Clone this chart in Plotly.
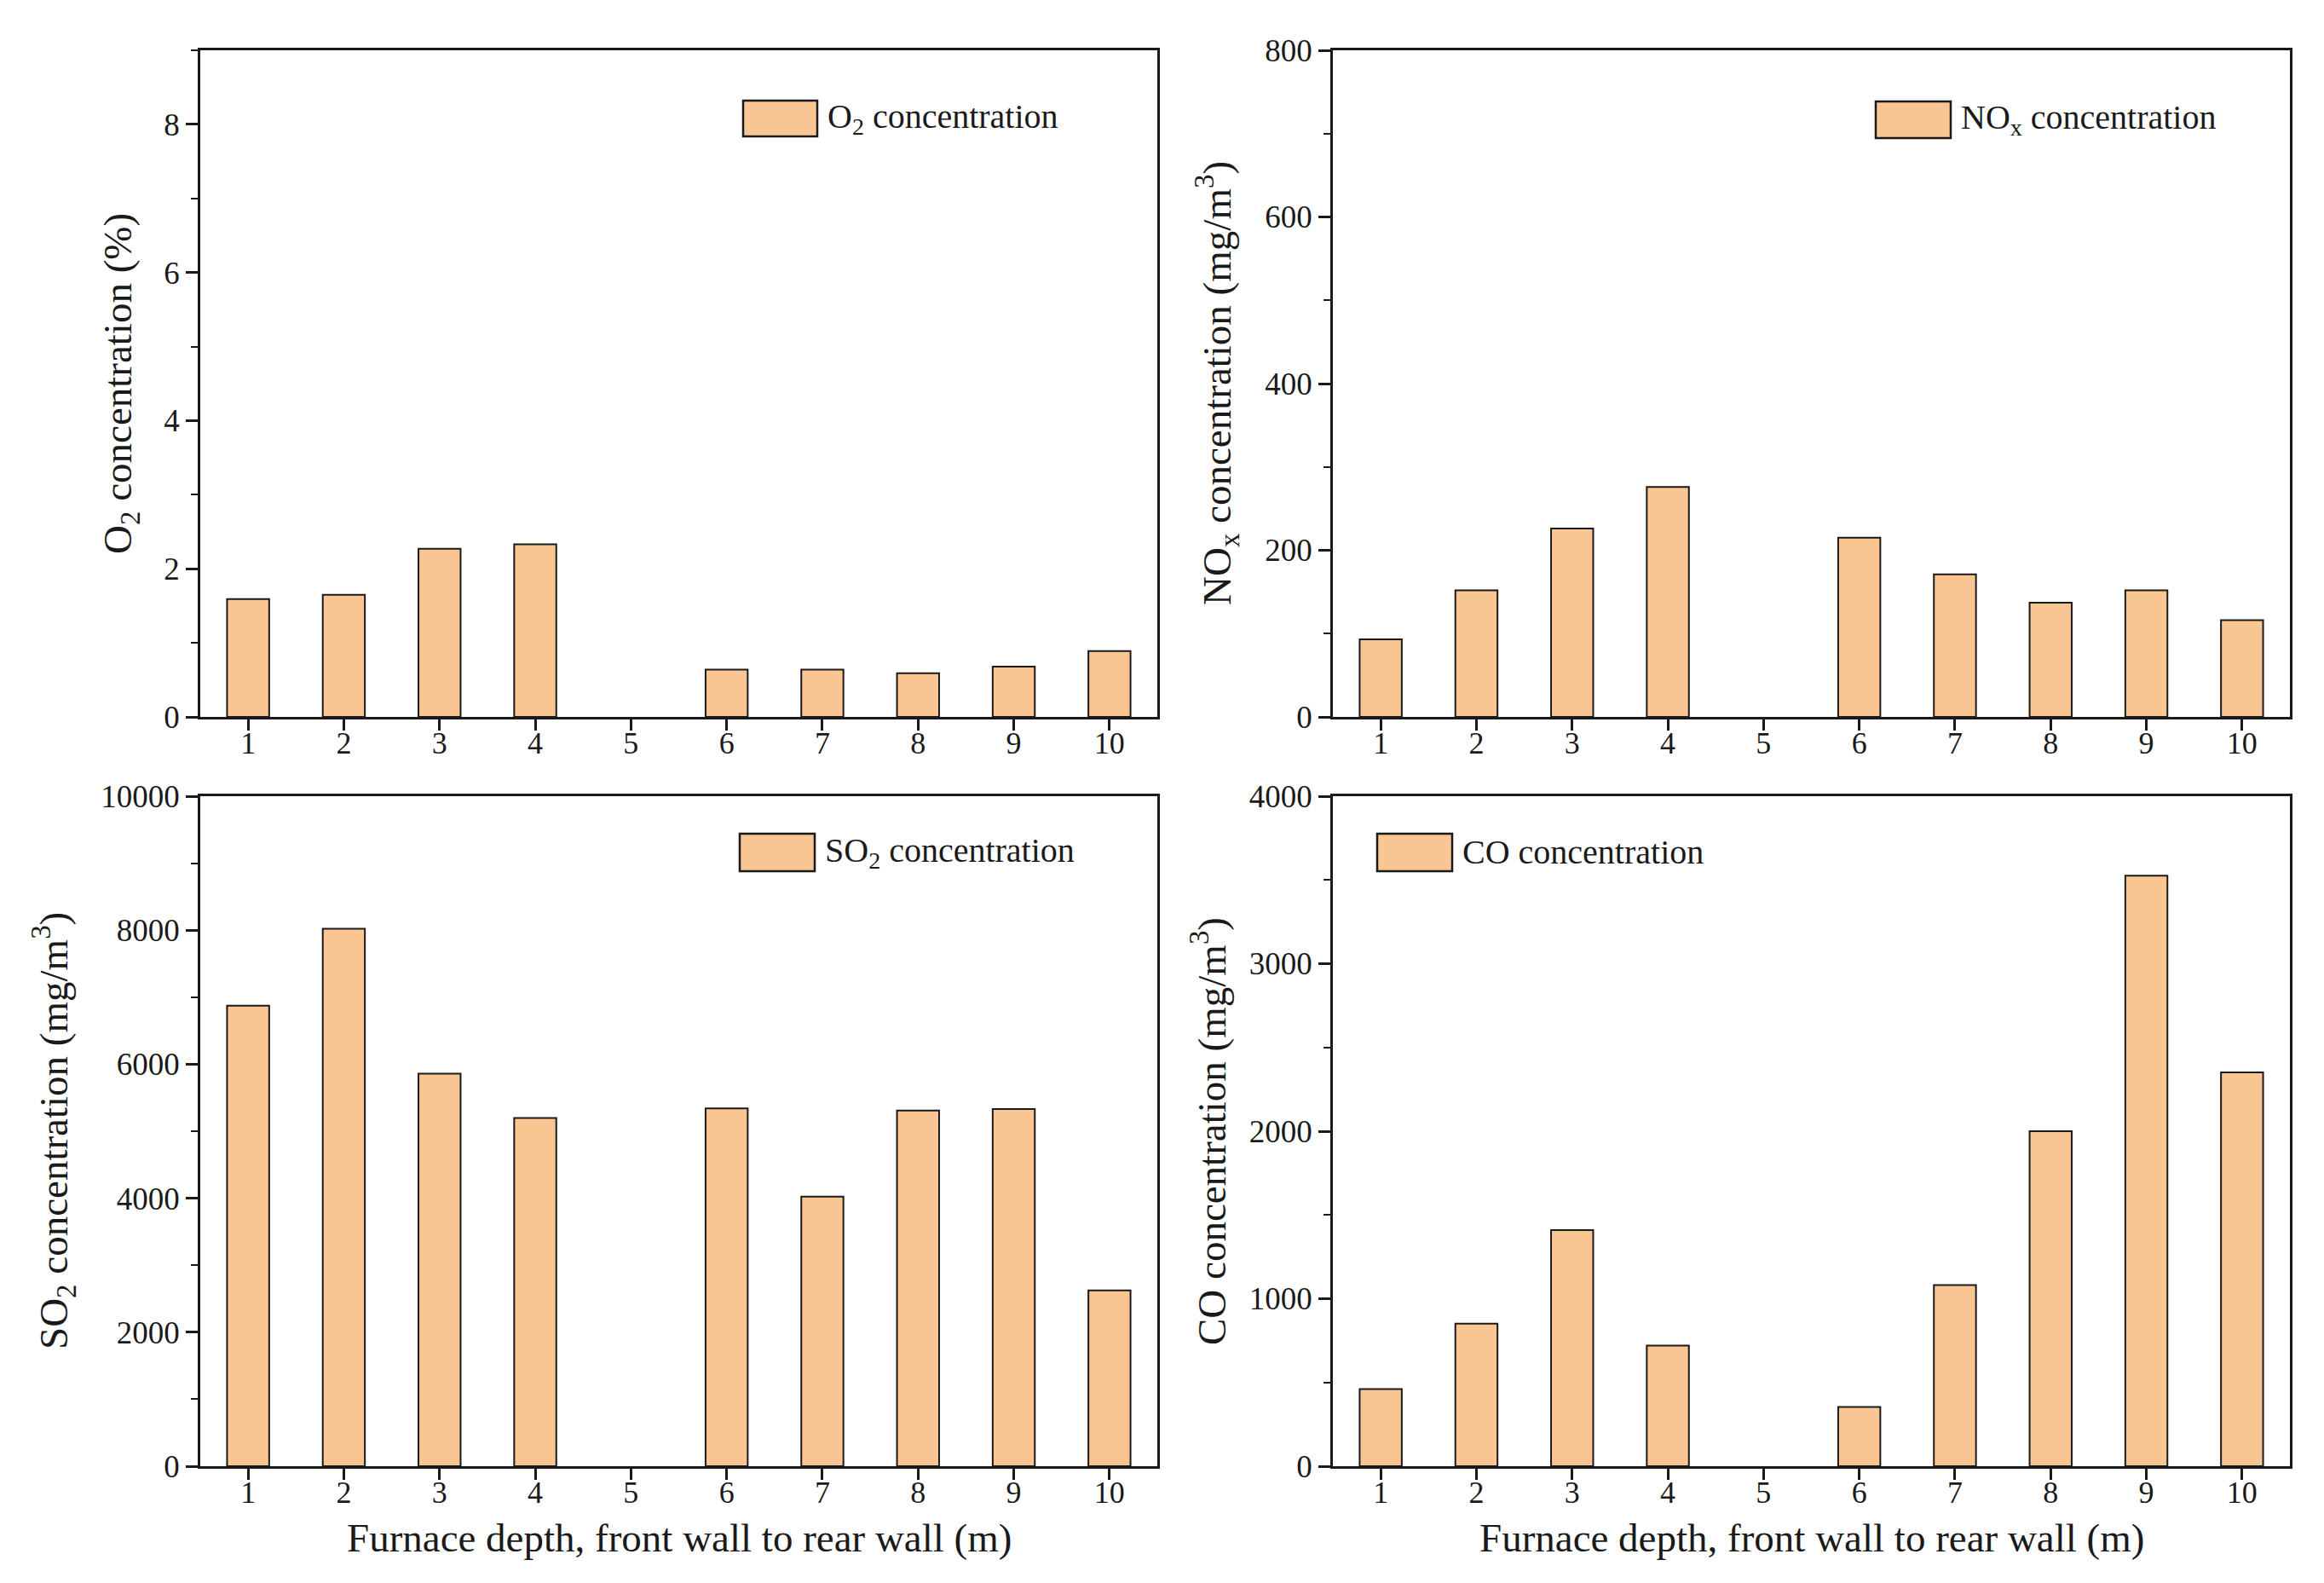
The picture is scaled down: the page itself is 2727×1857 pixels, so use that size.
import plotly.graph_objects as go

W, H = 2727, 1857

depth = [1, 2, 3, 4, 5, 6, 7, 8, 9, 10]
depth_labels = ["1", "2", "3", "4", "5", "6", "7", "8", "9", "10"]

o2 = [1.59, 1.65, 2.27, 2.33, None, 0.64, 0.64, 0.59, 0.68, 0.89]
nox = [93, 152, 226, 276, None, 215, 171, 137, 152, 116]
so2 = [6872, 8023, 5860, 5198, None, 5339, 4023, 5307, 5331, 2623]
co = [460, 851, 1410, 720, None, 354, 1081, 2000, 3525, 2351]

o2_ticks = [0, 2, 4, 6, 8]
nox_ticks = [0, 200, 400, 600, 800]
so2_ticks = [0, 2000, 4000, 6000, 8000, 10000]
co_ticks = [0, 1000, 2000, 3000, 4000]

FILL = "#F9C593"
EDGE = "#1a1a1a"
FONT = "Liberation Serif"
TXT = "#1a1a1a"

def px_x(p):
    return p / W

def px_y(p):
    return 1 - p / H

# panel boxes in pixels (left, right, top, bottom)
panels = [
    (227, 1350, 51, 833),
    (1556, 2679, 51, 833),
    (227, 1350, 926, 1712),
    (1556, 2679, 926, 1712),
]

series = [o2, nox, so2, co]
yranges = [[0, 9], [0, 800], [0, 10000], [0, 4000]]
yticks = [o2_ticks, nox_ticks, so2_ticks, co_ticks]
minor_dticks = [1, 100, 1000, 500]
names = ["O<sub>2</sub> concentration", "NO<sub>x</sub> concentration",
         "SO<sub>2</sub> concentration", "CO concentration"]
ytitles = ["O<sub>2</sub> concentration (%)",
           "NO<sub>x</sub> concentration (mg/m<sup>3</sup>)",
           "SO<sub>2</sub> concentration (mg/m<sup>3</sup>)",
           "CO concentration (mg/m<sup>3</sup>)"]
ytitle_x = [134, 1420, 55, 1410]
# legend swatch boxes (left, right, top, bottom) in pixels
legend_boxes = [
    (864, 951, 110, 152),
    (2193, 2281, 111, 154),
    (860, 948, 970, 1014),
    (1608, 1696, 970, 1014),
]

fig = go.Figure()
layout = {}
annotations = []
shapes = []

for i in range(4):
    l, r, t, b = panels[i]
    ax = "" if i == 0 else str(i + 1)
    fig.add_trace(go.Bar(
        x=depth, y=series[i], width=0.44,
        marker=dict(color=FILL, line=dict(color=EDGE, width=2)),
        xaxis="x" + ax, yaxis="y" + ax, showlegend=False, name=names[i],
    ))
    layout["xaxis" + ax] = dict(
        domain=[px_x(l), px_x(r)], anchor="y" + ax,
        range=[0.5, 10.5], tickvals=depth, ticktext=depth_labels,
        ticks="outside", ticklen=13, tickwidth=2.5, tickcolor=EDGE,
        ticklabelstandoff=-16,
        showline=True, linecolor=EDGE, linewidth=2.8, mirror=True,
        showgrid=False, zeroline=False, automargin=False,
        tickfont=dict(family=FONT, size=36, color=TXT),
    )
    layout["yaxis" + ax] = dict(
        domain=[px_y(b), px_y(t)], anchor="x" + ax,
        range=yranges[i], tickvals=yticks[i],
        ticktext=[str(v) for v in yticks[i]],
        ticks="outside", ticklen=14, tickwidth=2.5, tickcolor=EDGE,
        minor=dict(dtick=minor_dticks[i], ticks="outside", ticklen=8,
                   tickwidth=2, tickcolor=EDGE, showgrid=False),
        showline=True, linecolor=EDGE, linewidth=2.8, mirror=True,
        showgrid=False, zeroline=False, automargin=False,
        tickfont=dict(family=FONT, size=37, color=TXT),
    )
    annotations.append(dict(
        text=ytitles[i], x=px_x(ytitle_x[i]), y=px_y((t + b) / 2),
        xref="paper", yref="paper", xanchor="center", yanchor="middle",
        textangle=-90, showarrow=False,
        font=dict(family=FONT, size=47, color=TXT),
    ))
    ll, lr, lt, lb = legend_boxes[i]
    shapes.append(dict(
        type="rect", xref="paper", yref="paper",
        x0=px_x(ll), x1=px_x(lr), y0=px_y(lb), y1=px_y(lt),
        fillcolor=FILL, line=dict(color=EDGE, width=2.5),
    ))
    annotations.append(dict(
        text=names[i], x=px_x(lr + 10), y=px_y((lt + lb) / 2),
        xref="paper", yref="paper", xanchor="left", yanchor="middle",
        showarrow=False, font=dict(family=FONT, size=40, color=TXT),
    ))
    if i >= 2:
        annotations.append(dict(
            text="Furnace depth, front wall to rear wall (m)",
            x=px_x((l + r) / 2), y=px_y(1796),
            xref="paper", yref="paper", xanchor="center", yanchor="middle",
            showarrow=False, font=dict(family=FONT, size=47, color=TXT),
        ))

fig.update_layout(
    width=W, height=H,
    margin=dict(l=0, r=0, t=0, b=0),
    paper_bgcolor="white", plot_bgcolor="white",
    annotations=annotations, shapes=shapes,
    **layout,
)

fig.write_html("out.html")
